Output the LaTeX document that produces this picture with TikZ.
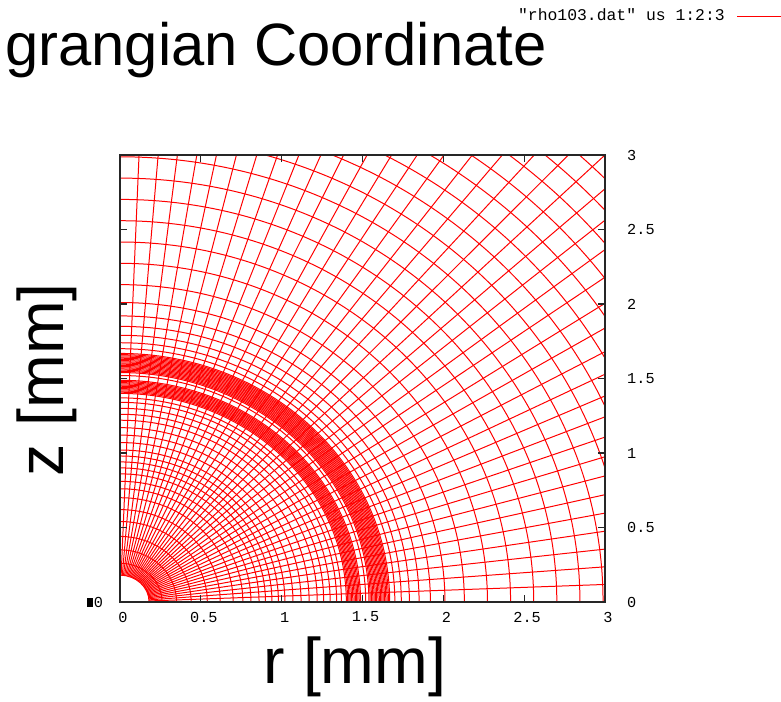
\documentclass[tikz,border=0pt]{standalone}
\usepackage{fontspec}
\setmainfont{Liberation Sans}
\setmonofont{Liberation Mono}
\definecolor{meshred}{RGB}{255,0,0}
\tikzset{
  mesh/.style={meshred, line width=0.85pt},
  frame/.style={black!85, line width=0.9pt},
  ticklabel/.style={font=\fontsize{13}{13}\ttfamily, inner sep=0pt},
  biglabel/.style={font=\fontsize{51}{51}\selectfont, inner sep=0pt},
}
\begin{document}
\begin{tikzpicture}[x=4.85cm, y=4.47cm]
    \useasboundingbox (-3.6cm,-2.97cm) rectangle (19.83cm,18.06cm);
    % lagrangian mesh
    \begin{scope}
        \clip (0,0) rectangle (3,3);
        \foreach \a in {0,2.25,...,90}
            \draw[mesh] (\a:0.18) -- (\a:4.3);
        \foreach \r in {0.18,0.26,0.35,0.44,0.54,0.62,0.70,0.76,0.81,0.86,0.90,0.94,0.98,1.02,1.07,1.12,1.17,1.22,1.26,1.30,1.34,1.37,1.52,1.70,1.74,1.79,1.85,1.92,2.01}
            \draw[mesh] (\r,0) arc[start angle=0, end angle=90, radius=\r];
        \foreach \r in {1.40,1.408,...,1.49}
            \draw[mesh] (\r,0) arc[start angle=0, end angle=90, radius=\r];
        \foreach \r in {1.54,1.548,...,1.67}
            \draw[mesh] (\r,0) arc[start angle=0, end angle=90, radius=\r];
        \foreach \r in {2.13,2.273,...,4.3}
            \draw[mesh] (\r,0) arc[start angle=0, end angle=90, radius=\r];
    \end{scope}
    % frame and ticks
    \draw[frame] (0,0) rectangle (3,3);
    \foreach \t in {0.5,1,...,2.5} {
        \draw[frame] (\t,0) -- ++(0,0.21cm);
        \draw[frame] (\t,3) -- ++(0,-0.21cm);
        \draw[frame] (0,\t) -- ++(0.21cm,0);
        \draw[frame] (3,\t) -- ++(-0.21cm,0);
    }
    \foreach \t [count=\i] in {0,0.5,1,1.5,2,2.5,3} {
        \node[ticklabel] (xt\i) at ([xshift=0.09cm,yshift=-0.45cm]\t,0) {\t};
        \node[ticklabel, anchor=west] (zt\i) at ([xshift=0.66cm]3,\t) {\t};
    }
    \node[ticklabel, anchor=east] (zt0) at ([xshift=-0.5cm]0,0) {\rule{0.18cm}{0.27cm}\hspace{0.04cm}0};
    % key and labels
    \node[ticklabel, font=\fontsize{14}{14}\ttfamily, anchor=east] (key) at (18.15cm,17.61cm) {"rho103.dat" us 1:2:3};
    \coordinate (keyA) at (18.51cm,17.57cm);
    \coordinate (keyB) at (19.83cm,17.57cm);
    \draw[mesh] (keyA) -- (keyB);
    \node[biglabel, anchor=base west] (title) at (-3.45cm,16.08cm) {grangian Coordinate};
    \node[biglabel, font=\fontsize{55}{55}\selectfont] (rlabel) at (7.05cm,-1.95cm) {r [mm]};
    \node[biglabel, font=\fontsize{55}{55}\selectfont, rotate=90] (zlabel) at (-2.2cm,6.66cm) {z [mm]};
\end{tikzpicture}
\end{document}
